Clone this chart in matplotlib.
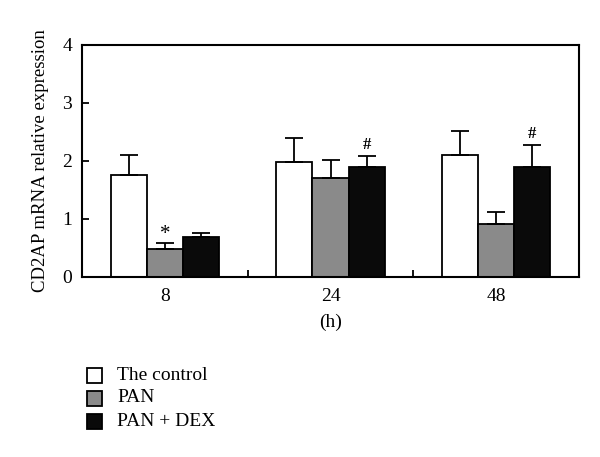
import matplotlib
matplotlib.use("Agg")
import matplotlib.pyplot as plt
from matplotlib.patches import Rectangle
import numpy as np

plt.rcParams['font.family'] = ['Liberation Serif', 'DejaVu Serif']

groups = ['8', '24', '48']
series = ['The control', 'PAN', 'PAN + DEX']
colors = ['white', '#8a8a8a', '#0a0a0a']
means = {
    'The control': [1.75, 1.99, 2.10],
    'PAN': [0.49, 1.71, 0.92],
    'PAN + DEX': [0.69, 1.90, 1.89],
}
errs = {
    'The control': [0.36, 0.41, 0.41],
    'PAN': [0.10, 0.31, 0.20],
    'PAN + DEX': [0.06, 0.19, 0.39],
}
marks = {('PAN', 0): '*', ('PAN + DEX', 1): '#', ('PAN + DEX', 2): '#'}

fig = plt.figure(figsize=(6.0, 4.57), dpi=100)
ax = fig.add_axes([0.1367, 0.3939, 0.8283, 0.5077])

w = 0.218
centers = np.arange(len(groups)) + 0.5
for i, s in enumerate(series):
    xs = centers + (i - 1) * w
    ax.bar(xs, means[s], width=w, color=colors[i], edgecolor='black', linewidth=1.3, zorder=2)
    ax.errorbar(xs, means[s], yerr=[np.zeros(3), errs[s]], fmt='none', ecolor='black',
                elinewidth=1.3, capsize=6.5, capthick=1.3, zorder=3)
    for (ss, gi), m in marks.items():
        if ss == s:
            if m == '*':
                ax.text(xs[gi], means[s][gi] + errs[s][gi] - 0.02, m, ha='center', va='bottom',
                        fontsize=15)
            else:
                ax.text(xs[gi], means[s][gi] + errs[s][gi] + 0.05, m, ha='center', va='bottom',
                        fontsize=12, fontweight='bold')

ax.set_xlim(0, 3)
ax.set_ylim(0, 4)
ax.set_yticks([0, 1, 2, 3, 4])
ax.set_xticks(centers)
ax.set_xticklabels(groups)
ax.set_xticks([1, 2], minor=True)
ax.tick_params(axis='x', which='major', length=0, labelsize=14, pad=8)
ax.tick_params(axis='x', which='minor', direction='in', length=5, width=1.3)
ax.tick_params(axis='y', which='major', direction='in', length=5, width=1.3, labelsize=14, pad=7)
for sp in ax.spines.values():
    sp.set_linewidth(1.5)
ax.set_ylabel('CD2AP mRNA relative expression', fontsize=13.5, labelpad=10)
ax.set_xlabel('(h)', fontsize=14, labelpad=6)

# legend
W, H = 600, 457
for i, s in enumerate(series):
    yc = 375 + i * 23
    fig.patches.append(Rectangle((87 / W, (H - yc - 7.5) / H), 15 / W, 15 / H,
                                 transform=fig.transFigure, facecolor=colors[i],
                                 edgecolor='black', linewidth=1.3))
    fig.text(117 / W, (H - yc) / H, s, fontsize=14, va='center', ha='left')

fig.savefig('out.png', dpi=100)
